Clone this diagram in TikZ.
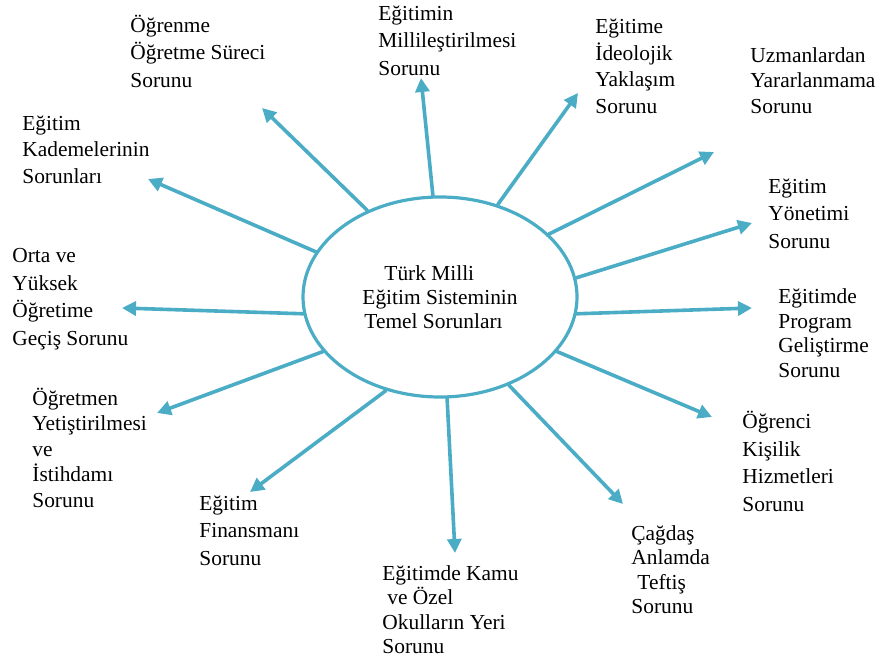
\documentclass[tikz,border=0pt]{standalone}
\usepackage{fontspec}
\setmainfont{Liberation Serif}
\usetikzlibrary{arrows.meta, positioning, shapes.geometric}
\definecolor{aqua}{HTML}{4BACC6}
\newcommand{\lblstrut}{\rule{0pt}{10pt}}

\begin{document}
\begin{tikzpicture}[x=0.5pt, y=-0.5pt, >=Latex, line cap=round, line join=round]

% --------- ortak stiller ----------
\tikzset{
  spoke/.style={-{Triangle[length=7pt,width=7pt]}, line width=1.8pt, aqua},
  lbl/.style={anchor=north west, inner sep=0pt, align=left,
              font=\fontsize{10.7}{#1}\selectfont},
  lbl/.default=13.7
}
\useasboundingbox (0,0) rectangle (881,662);

% ===================== merkez =====================
\node[ellipse, draw=aqua, line width=1.6pt, minimum width=137pt, minimum height=100pt,
      inner sep=0pt, align=left, font=\fontsize{10.7}{12}\selectfont] (c) at (440,297)
  {\hspace*{11pt}Türk Milli\\Eğitim Sisteminin\\\hspace*{1pt}Temel Sorunları};

% ===================== konular =====================
\node[lbl=13.75] (ogrenme) at (130,12)  {\lblstrut Öğrenme\\Öğretme Süreci\\Sorunu};
\node[lbl=13.75] (milli)   at (378,0)   {\lblstrut Eğitimin\\Millileştirilmesi\\Sorunu};
\node[lbl=13.4]  (ideo)    at (595,13)  {\lblstrut Eğitime\\İdeolojik\\Yaklaşım\\Sorunu};
\node[lbl=12.75] (uzman)   at (750,42)  {\lblstrut Uzmanlardan\\Yararlanmama\\Sorunu};
\node[lbl=13.25] (kademe)  at (22,110)  {\lblstrut Eğitim\\Kademelerinin\\Sorunları};
\node[lbl=13.75] (yonetim) at (768,173) {\lblstrut Eğitim\\Yönetimi\\Sorunu};
\node[lbl=13.85] (gecis)   at (12,242)  {\lblstrut Orta ve\\Yüksek\\Öğretime\\Geçiş Sorunu};
\node[lbl=12.35] (program) at (778,283) {\lblstrut Eğitimde\\Program\\Geliştirme\\Sorunu};
\node[lbl=12.75] (ogretmen) at (32,385) {\lblstrut Öğretmen\\Yetiştirilmesi\\ve\\İstihdamı\\Sorunu};
\node[lbl=13.85] (kisilik) at (742,408) {\lblstrut Öğrenci\\Kişilik\\Hizmetleri\\Sorunu};
\node[lbl=13.75] (finans)  at (199,490) {\lblstrut Eğitim\\Finansmanı\\Sorunu};
\node[lbl=12.15] (teftis)  at (631,520) {\lblstrut Çağdaş\\Anlamda\\\hspace*{3pt}Teftiş\\Sorunu};
\node[lbl=12.15] (okul)    at (382,560) {\lblstrut Eğitimde Kamu\\\hspace*{2.5pt}ve Özel\\Okulların Yeri\\Sorunu};

% ok uçları
\coordinate (t-ogrenme)  at (262,108);
\coordinate (t-milli)    at (421,78);
\coordinate (t-ideo)     at (578,93);
\coordinate (t-uzman)    at (714,152);
\coordinate (t-kademe)   at (148,179);
\coordinate (t-yonetim)  at (752,223);
\coordinate (t-gecis)    at (122,308);
\coordinate (t-program)  at (752,308);
\coordinate (t-ogretmen) at (157,413);
\coordinate (t-kisilik)  at (712,417);
\coordinate (t-finans)   at (250,492);
\coordinate (t-teftis)   at (623,504);
\coordinate (t-okul)     at (455,553);

% ===================== oklar =====================
\draw[spoke] (c.130)  -- (t-ogrenme);
\draw[spoke] (c.94)   -- (t-milli);
\draw[spoke] (c.58.6) -- (t-ideo);
\draw[spoke] (c.30.6) -- (t-uzman);
\draw[spoke] (c.160.6) -- (t-kademe);
\draw[spoke] (c.8.7)  -- (t-yonetim);
\draw[spoke] (c.187.9) -- (t-gecis);
\draw[spoke] (c.-7.4) -- (t-program);
\draw[spoke] (c.205)  -- (t-ogretmen);
\draw[spoke] (c.-25.6) -- (t-kisilik);
\draw[spoke] (c.-120) -- (t-finans);
\draw[spoke] (c.-52.3) -- (t-teftis);
\draw[spoke] (c.-86.2) -- (t-okul);

\end{tikzpicture}
\end{document}
